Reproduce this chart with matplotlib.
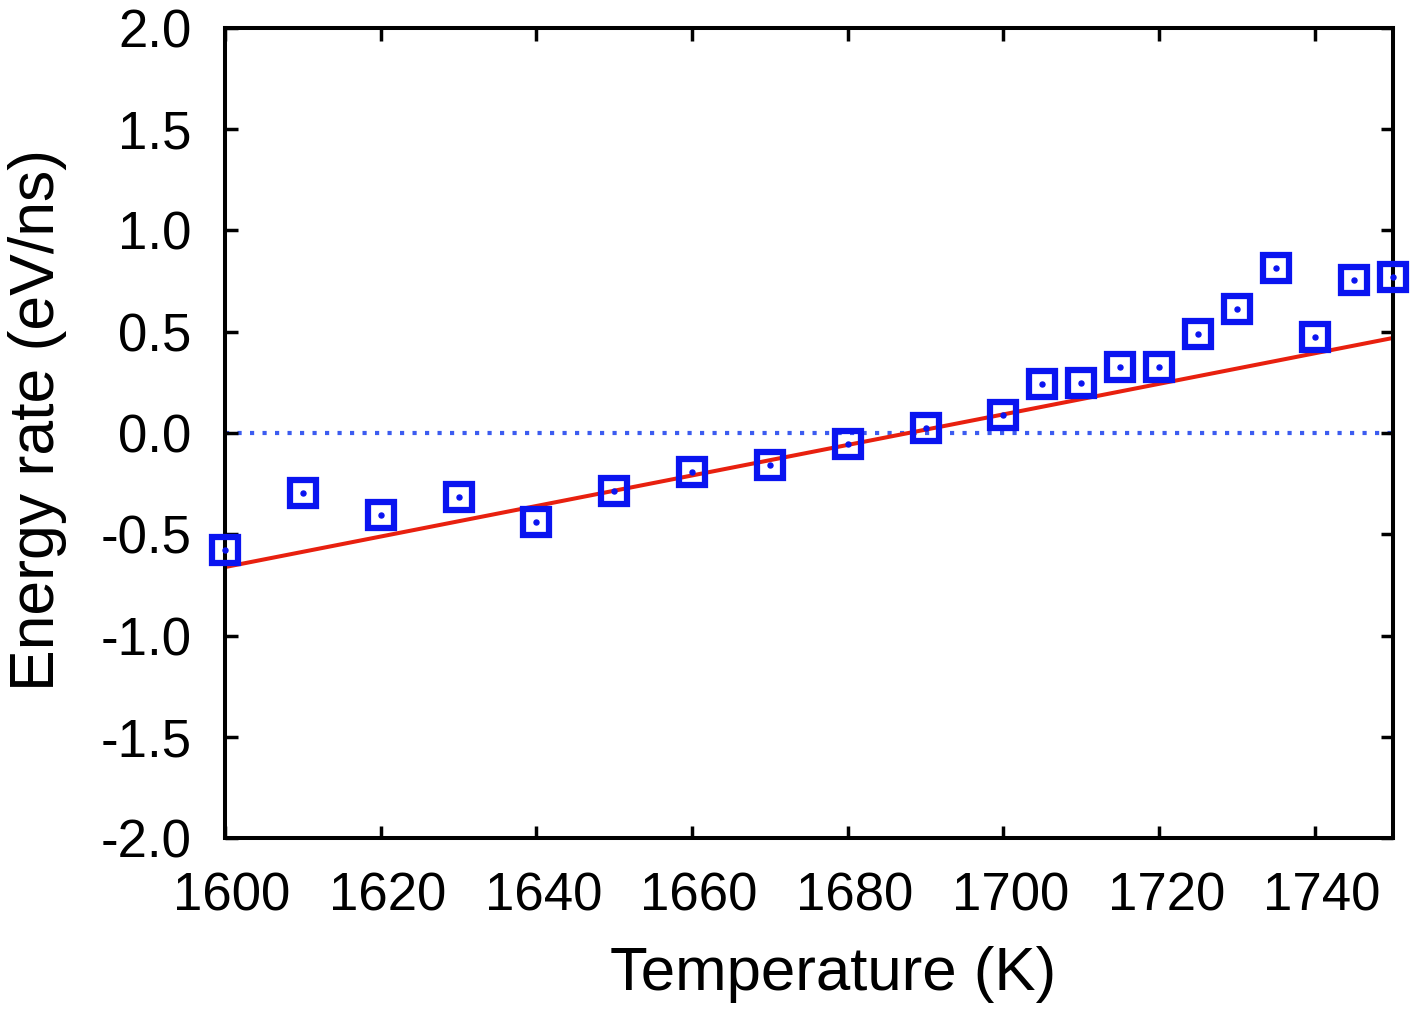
import numpy as np
import matplotlib
matplotlib.use("Agg")
import matplotlib.pyplot as plt
import matplotlib.transforms as mtransforms

plt.rcParams['font.family'] = ['Liberation Sans', 'DejaVu Sans']

# measured energy rate vs temperature
temperature = [1600, 1610, 1620, 1630, 1640, 1650, 1660, 1670, 1680, 1690, 1700,
               1705, 1710, 1715, 1720, 1725, 1730, 1735, 1740, 1745, 1750]
energy_rate = [-0.578, -0.296, -0.405, -0.316, -0.44, -0.286, -0.193, -0.158, -0.054, 0.025, 0.089,
               0.242, 0.247, 0.326, 0.326, 0.489, 0.612, 0.815, 0.474, 0.756, 0.77]

# linear fit end points
fit_t = [1600, 1750]
fit_e = [-0.662, 0.469]

fig = plt.figure(figsize=(14.11, 10.24), dpi=100)
ax = fig.add_axes([0.1595, 0.1816, 0.8275, 0.7911])

ax.plot([1600, 1750], [0, 0], color='#3c5cf0', lw=3, linestyle=(0, (1.0, 2.0)), zorder=1)
ax.plot(fit_t, fit_e, color='#e8200f', lw=2.9, zorder=2)
ax.plot(temperature, energy_rate, linestyle='none', marker='s', ms=19, mfc='none',
        mec='#0a14f0', mew=4.5, clip_on=False, zorder=3)
ax.plot(temperature, energy_rate, linestyle='none', marker='o', ms=3.6,
        color='#0a14f0', clip_on=False, zorder=3)

ax.set_xlim(1600, 1750)
ax.set_ylim(-2.0, 2.0)
ax.set_xticks(np.arange(1600, 1741, 20))
ax.set_yticks(np.arange(-2.0, 2.01, 0.5))
ax.set_yticklabels(['%.1f' % v for v in np.arange(-2.0, 2.01, 0.5)])
ax.tick_params(direction='in', length=9, width=2.5, labelsize=38,
               top=True, right=True, pad=24)
for s in ax.spines.values():
    s.set_linewidth(2.9)

# gnuplot puts the x tick labels a bit to the right
shift = mtransforms.ScaledTranslation(7 / 100, 0, fig.dpi_scale_trans)
for lab in ax.get_xticklabels():
    lab.set_transform(lab.get_transform() + shift)

ax.set_xlabel('Temperature (K)', fontsize=44.5, labelpad=18, x=0.521)
ax.set_ylabel('Energy rate (eV/ns)', fontsize=45, labelpad=24, y=0.516)

fig.savefig('out.png', dpi=100)
